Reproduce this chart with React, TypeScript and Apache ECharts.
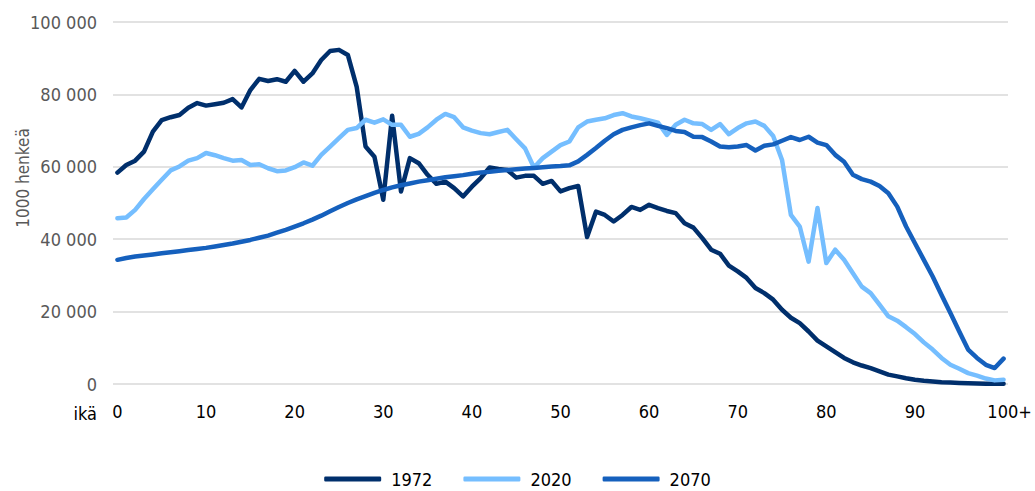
import React, { useEffect, useRef } from "react";
import * as echarts from "echarts";

const ages: string[] = [];
for (let i = 0; i <= 100; i++) ages.push(i === 100 ? "100+" : String(i));

const yTicks = [0, 20000, 40000, 60000, 80000, 100000];

// values in thousands of persons
const s1972 = [
  58.4, 60.5, 61.7, 64.2, 69.7, 72.9, 73.7, 74.3, 76.3, 77.6,
  76.9, 77.3, 77.7, 78.7, 76.4, 81.2, 84.3, 83.7, 84.2, 83.5,
  86.5, 83.5, 85.8, 89.5, 92.0, 92.3, 90.9, 82.1, 65.6, 62.8,
  50.9, 74.1, 53.2, 62.4, 61.0, 57.8, 55.3, 55.9, 54.1, 51.8,
  54.5, 56.9, 59.8, 59.4, 59.1, 57.0, 57.5, 57.5, 55.3, 56.1,
  53.2, 54.1, 54.7, 40.6, 47.6, 46.7, 44.9, 46.7, 48.9, 48.1,
  49.5, 48.6, 47.8, 47.2, 44.4, 43.2, 40.3, 37.1, 36.0, 32.7,
  31.1, 29.3, 26.5, 25.1, 23.3, 20.5, 18.3, 16.8, 14.5, 12.0,
  10.4, 8.8, 7.2, 6.0, 5.1, 4.4, 3.5, 2.6, 2.1, 1.6,
  1.2, 0.9, 0.7, 0.5, 0.4, 0.3, 0.2, 0.15, 0.1, 0.05,
  0.1,
];

const s2020 = [
  45.8, 46.0, 48.1, 51.1, 53.8, 56.4, 59.0, 60.1, 61.7, 62.4,
  63.8, 63.2, 62.4, 61.7, 61.9, 60.5, 60.7, 59.6, 58.8, 59.0,
  59.9, 61.2, 60.3, 63.3, 65.6, 67.9, 70.2, 70.7, 73.0, 72.2,
  73.1, 71.6, 71.6, 68.3, 69.1, 70.9, 73.0, 74.6, 73.7, 70.9,
  70.0, 69.3, 69.0, 69.6, 70.2, 67.6, 65.1, 59.8, 62.4, 64.2,
  66.0, 67.0, 70.9, 72.5, 73.0, 73.4, 74.3, 74.8, 73.9, 73.4,
  72.8, 72.2, 68.8, 71.6, 73.0, 72.0, 71.8, 70.2, 71.8, 69.0,
  70.7, 72.0, 72.5, 71.3, 68.5, 61.9, 46.7, 43.5, 33.8, 48.6,
  33.4, 37.1, 34.3, 30.6, 26.9, 25.1, 21.9, 18.7, 17.5, 15.7,
  13.8, 11.5, 9.5, 7.2, 5.3, 4.2, 3.0, 2.3, 1.5, 1.0,
  1.2,
];

const s2070 = [
  34.3, 34.8, 35.2, 35.5, 35.8, 36.1, 36.4, 36.7, 37.0, 37.3,
  37.6, 38.0, 38.4, 38.8, 39.3, 39.8, 40.4, 41.0, 41.8, 42.6,
  43.5, 44.4, 45.4, 46.5, 47.7, 48.9, 50.0, 51.0, 51.9, 52.8,
  53.6, 54.3, 54.9, 55.4, 55.9, 56.3, 56.7, 57.1, 57.4, 57.7,
  58.1, 58.4, 58.6, 58.9, 59.1, 59.3, 59.5, 59.7, 59.9, 60.1,
  60.2, 60.4, 61.5, 63.3, 65.2, 67.2, 69.0, 70.2, 70.9, 71.5,
  72.0, 71.3, 70.7, 69.9, 69.6, 68.3, 68.2, 67.0, 65.6, 65.4,
  65.6, 66.0, 64.5, 65.8, 66.2, 67.2, 68.2, 67.4, 68.3, 66.7,
  66.0, 63.3, 61.4, 57.8, 56.6, 55.9, 54.7, 52.7, 49.0, 43.5,
  38.9, 34.3, 29.7, 24.6, 19.6, 14.5, 9.5, 7.2, 5.3, 4.4,
  7.0,
];

const seriesNames = ["1972", "2020", "2070"];
const seriesColors = ["#002F6C", "#75BEFF", "#1560BD"];

const FONT = '"DejaVu Sans Condensed", "Liberation Sans Narrow", sans-serif';
const FS = 18;

function fmt(v: number): string {
  return String(Math.round(v)).replace(/\B(?=(\d{3})+(?!\d))/g, " ");
}

export default function App() {
  const ref = useRef<HTMLDivElement>(null);
  useEffect(() => {
    if (!ref.current) return;
    const chart = echarts.init(ref.current, undefined, { renderer: "svg" });
    const data = [s1972, s2020, s2070].map((arr) => arr.map((v) => Math.round(v * 1000)));
    chart.setOption({
      animation: false,
      textStyle: { fontFamily: FONT },
      grid: { left: 113, right: 27, top: 22, bottom: 107, containLabel: false },
      legend: {
        data: seriesNames,
        top: 470,
        padding: 0,
        left: "center",
        icon: "roundRect",
        itemWidth: 57,
        itemHeight: 5,
        itemGap: 31,
        textStyle: { fontFamily: FONT, fontSize: FS, color: "#000", padding: [0, 0, 0, 5] },
      },
      xAxis: {
        type: "category",
        data: ages,
        boundaryGap: true,
        axisLine: { show: false },
        axisTick: { show: false },
        splitLine: { show: false },
        axisLabel: {
          interval: (i: number) => i % 10 === 0,
          margin: 18,
          fontSize: FS,
          fontFamily: FONT,
          color: "#000",
          formatter: (v: string) => (v === "100+" ? "{p|100+}" : v),
          rich: {
            p: { padding: [0, 0, 0, 12], fontSize: FS, fontFamily: FONT, color: "#000" },
          },
        },
      },
      yAxis: {
        type: "value",
        min: yTicks[0],
        max: yTicks[yTicks.length - 1],
        interval: yTicks[1] - yTicks[0],
        axisLine: { show: false },
        axisTick: { show: false },
        splitLine: { lineStyle: { color: "#D9D9D9", width: 1.5 } },
        axisLabel: {
          margin: 16,
          fontSize: FS,
          fontFamily: FONT,
          color: "#595959",
          formatter: (v: number) => fmt(v),
        },
      },
      graphic: [
        {
          type: "text",
          x: 23,
          y: 178,
          rotation: Math.PI / 2,
          style: {
            text: "1000 henkeä",
            fontSize: 17,
            fontFamily: FONT,
            fill: "#595959",
            align: "center",
            verticalAlign: "middle",
          },
        },
        {
          type: "text",
          x: 97,
          y: 413,
          style: {
            text: "ikä",
            fontSize: FS,
            fontFamily: FONT,
            fill: "#000",
            align: "right",
            verticalAlign: "middle",
          },
        },
      ],
      series: seriesNames.map((name, i) => ({
        name,
        type: "line",
        data: data[i],
        showSymbol: false,
        symbol: "none",
        color: seriesColors[i],
        lineStyle: { width: 4.5, color: seriesColors[i], cap: "round", join: "round" },
        itemStyle: { color: seriesColors[i] },
      })),
    });
    return () => chart.dispose();
  }, []);
  return (
    <div
      ref={ref}
      style={{ position: "absolute", left: 0, top: 0, width: 1035, height: 491 }}
    />
  );
}
